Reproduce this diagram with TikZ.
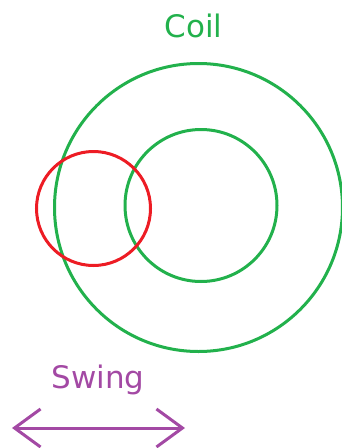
\documentclass[tikz,border=0pt]{standalone}
\usepackage{fontspec}
\setmainfont{DejaVu Sans}
\usetikzlibrary{arrows.meta}
\definecolor{coilgreen}{HTML}{22B14C}
\definecolor{magred}{HTML}{ED1C24}
\definecolor{swingpurple}{HTML}{A349A4}

\begin{document}
\begin{tikzpicture}[x=1pt, y=-1pt, font=\fontsize{31}{36}\selectfont,
  ring/.style={circle, draw=coilgreen, line width=3pt, inner sep=0pt},
  magnet/.style={circle, draw=magred, line width=3pt, inner sep=0pt},
  lbl/.style={inner sep=0pt, anchor=base},
  sw/.style={{Straight Barb[length=26pt, width=38pt]}-{Straight Barb[length=26pt, width=38pt]},
    line width=3pt, swingpurple}]
  \useasboundingbox (0,0) rectangle (342,448);
  \node[ring, minimum size=288pt] (outer) at (198.5,207.5) {};
  \node[ring, minimum size=152pt] (inner) at (201,205.5) {};
  \node[magnet, minimum size=114pt] (mag) at (93.5,208.5) {};
  \node[lbl, text=coilgreen] (coil) at (193.5,37) {Coil};
  \node[lbl, text=swingpurple] (swing) at (98,388) {Swing};
  \coordinate (swl) at (12,428);
  \coordinate (swr) at (185,428);
  \draw[sw] (swl) -- (swr);
\end{tikzpicture}
\end{document}
